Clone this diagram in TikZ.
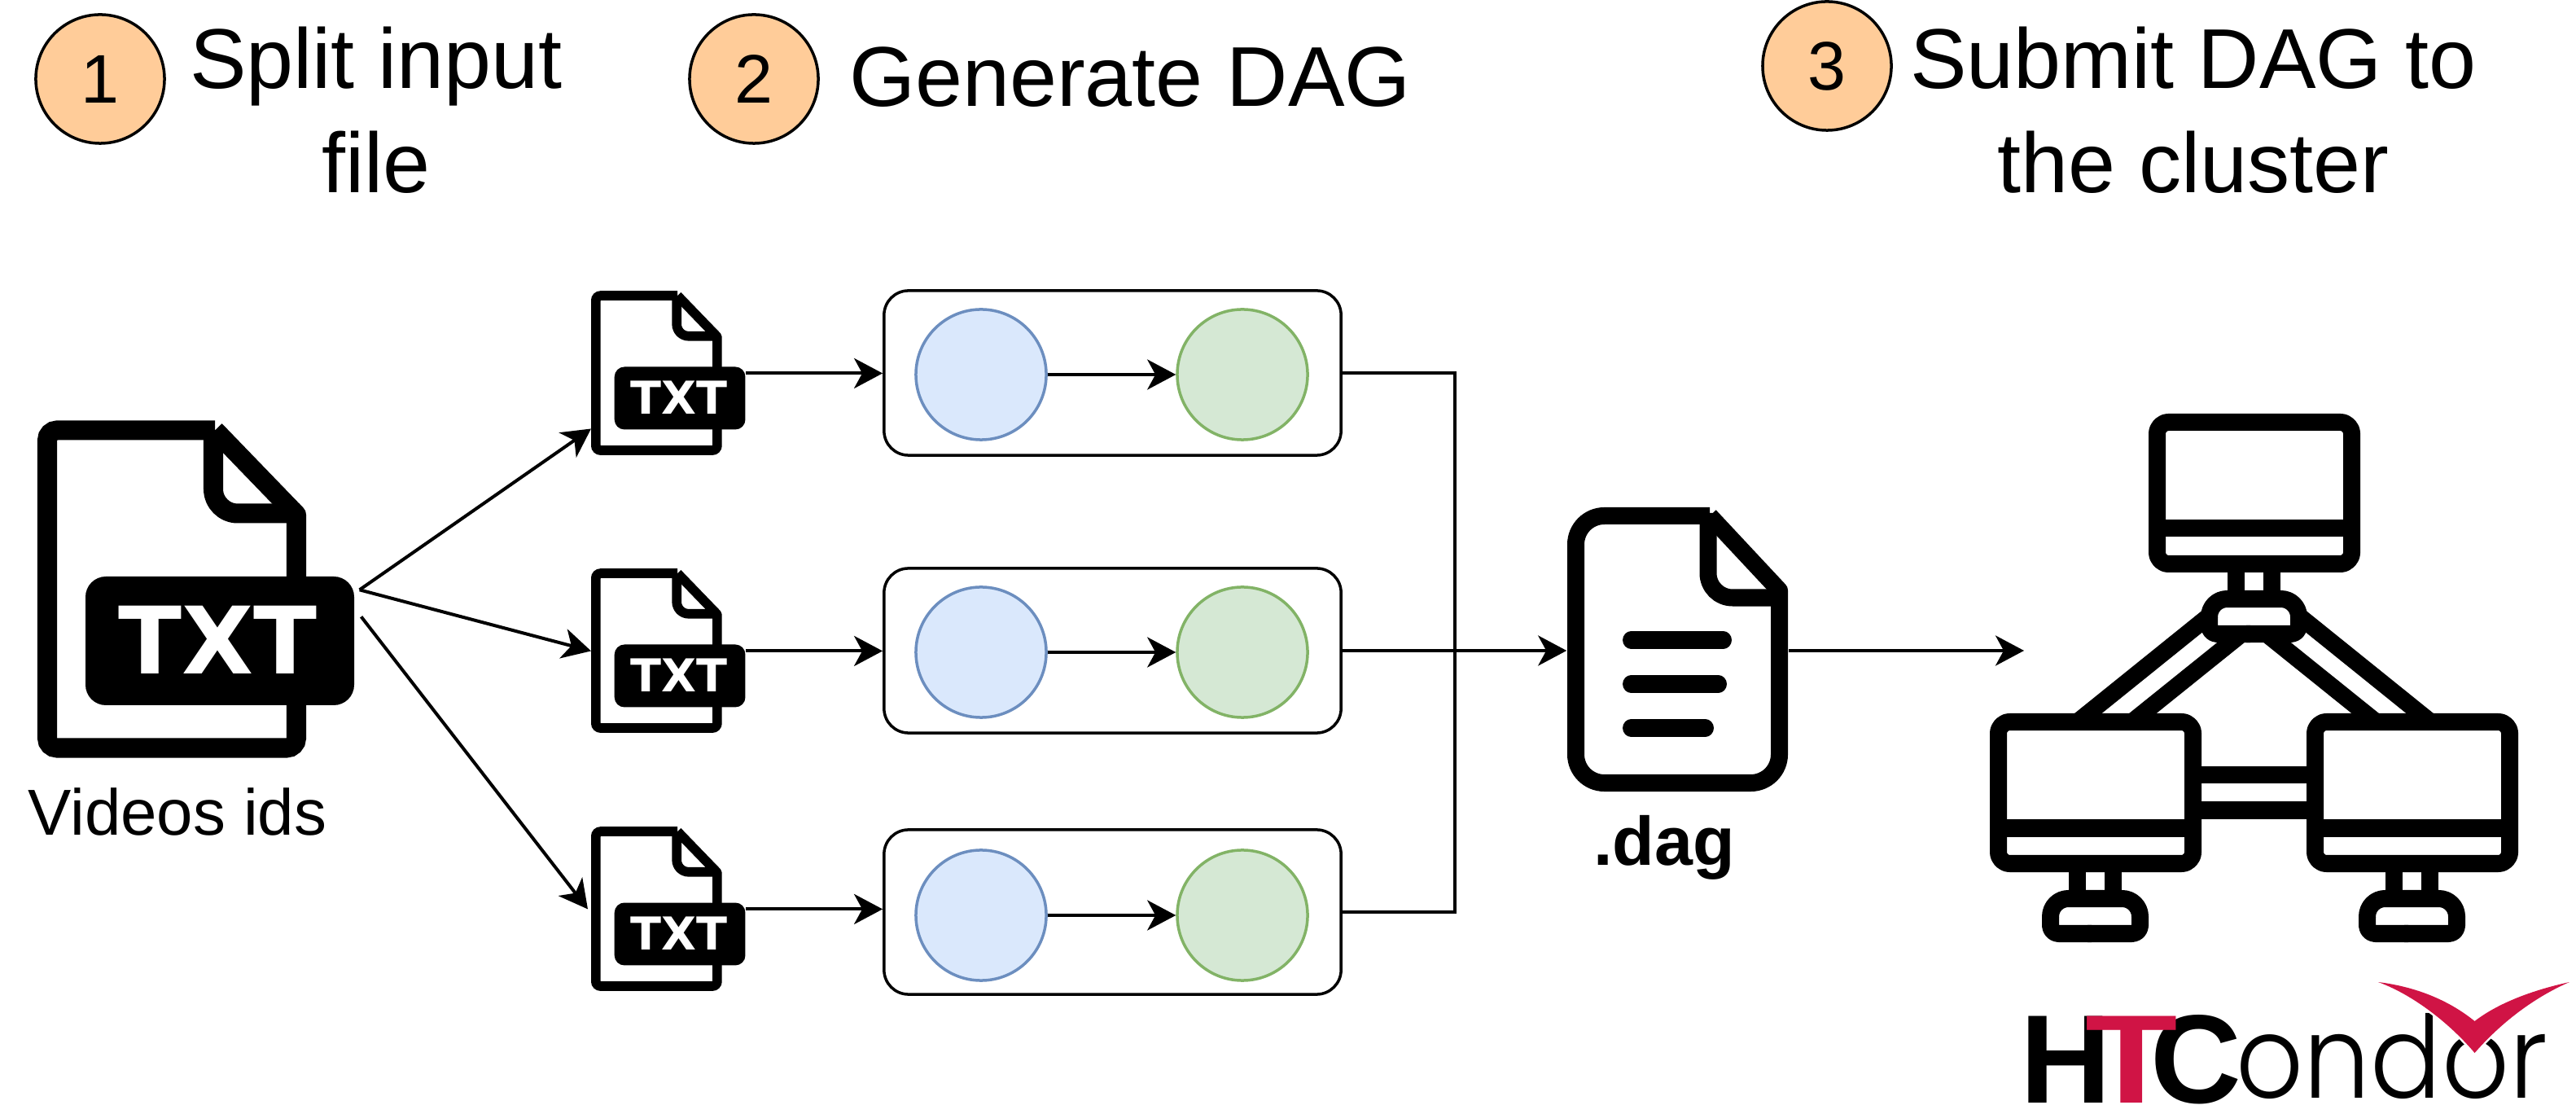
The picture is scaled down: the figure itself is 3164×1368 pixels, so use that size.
\documentclass[tikz,border=0pt]{standalone}
\usepackage{fontspec}
\usetikzlibrary{arrows.meta}
\setmainfont{Liberation Sans}
\newfontfamily\txtfont{DejaVu Sans}
\newfontfamily\thinfont[UprightFont=* Light]{Poppins}
\definecolor{stepfill}{HTML}{FFCC99}
\definecolor{bluefill}{HTML}{DAE8FC}
\definecolor{bluedraw}{HTML}{6C8EBF}
\definecolor{greenfill}{HTML}{D5E8D4}
\definecolor{greendraw}{HTML}{82B366}
\definecolor{logored}{HTML}{D01445}
\tikzset{
  flow/.style={line width=.04cm,-{Stealth[length=.35cm,width=.37cm,inset=.1cm]}},
  stepnum/.style={circle,draw,fill=stepfill,line width=.035cm,minimum size=1.58cm,inner sep=0,font=\fontsize{24}{28}\selectfont},
  title/.style={align=center,inner sep=0,font=\fontsize{29.65}{36.5}\selectfont},
  rowbox/.style={draw,rounded corners=.3cm,line width=.035cm,minimum width=5.61cm,minimum height=2.02cm},
  bluejob/.style={circle,draw=bluedraw,fill=bluefill,line width=.035cm,minimum size=1.6cm,inner sep=0},
  greenjob/.style={circle,draw=greendraw,fill=greenfill,line width=.035cm,minimum size=1.6cm,inner sep=0},
  caption/.style={inner sep=0,font=\fontsize{22.7}{27}\selectfont},
  heavy/.style={line width=.21cm,rounded corners=.14cm,line join=round},
}
\newcommand{\txtfile}[3]{
  \begin{scope}[shift={(#2)},scale=#3,every node/.append style={transform shape}]
    \draw [line width=.24cm*#3,rounded corners=.12cm*#3] (218,12.5)--(12,12.5)--(12,402.5)--(318,402.5)--(318,200);
    \draw [line width=.24cm*#3,line join=round] (318,200)--(318,116)--(218,12.5);
    \draw [line width=.24cm*#3,rounded corners=.3cm*#3] (216,12)--(216,114.5)--(322,114.5);
    \fill [rounded corners=.25cm*#3] (59,192) rectangle (389,350);
    \node [text=white,inner sep=0,font=\txtfont\bfseries\fontsize{32.5}{33}\selectfont] at (221.5,270) {TXT};
    \node [anchor=north west,inner sep=0,minimum width=3.89cm,minimum height=4.15cm] (#1) at (0,0) {};
  \end{scope}
}
\newcommand{\monitor}[1]{
  \begin{scope}[shift={(#1)}]
    \draw [heavy,fill=white] (10.5,10.5) rectangle (249.5,184.5);
    \draw [line width=.21cm] (0,141)--(260,141);
    \draw [line width=.21cm] (107.5,190)--(107.5,222);
    \draw [line width=.21cm] (151,190)--(151,222);
    \fill [white] (74.5,227.5) rectangle (184.5,270.5);
    \draw [heavy,rounded corners=.1cm] (125,270.5)--(74.5,270.5)--(74.5,250);
    \draw [heavy,rounded corners=.22cm] (74.5,250)--(74.5,227.5)--(184.5,227.5)--(184.5,250);
    \draw [heavy,rounded corners=.1cm] (184.5,250)--(184.5,270.5)--(120,270.5);
  \end{scope}
}
\begin{document}
\begin{tikzpicture}[x=.01cm,y=-.01cm]
  \useasboundingbox (0,0) rectangle (3164,1368);
  \node [stepnum] (S1) at (123,97) {1};
  \node [stepnum] (S2) at (926,97) {2};
  \node [stepnum] (S3) at (2244,81) {3};
  \node [title] (T1) at (462,135) {Split input\\file};
  \node [title] (T2) at (1388,95) {Generate DAG};
  \node [title] (T3) at (2694,135) {Submit DAG to\\the cluster};

  \txtfile{V}{46,516}{1}
  \node [caption] (VL) at (218,997) {Videos ids};

  \foreach \y/\ytop/\ymid [count=\i] in {458/357/460,799/698/801,1120/1015/1124}{
    \txtfile{F\i}{726,\ytop}{.487}
    \node [rowbox] (B\i) at (1366.5,\y) {};
    \node [bluejob] (P\i) at (1205,\ymid) {};
    \node [greenjob] (Q\i) at (1526,\ymid) {};
    \draw [flow] (F\i.east) -- (B\i.west |- F\i.east);
    \draw [flow] (P\i) -- (Q\i);
  }
  \draw [flow] ([xshift=.05cm]V.east) -- ([yshift=-.68cm]F1.west);
  \draw [flow] ([xshift=.05cm]V.east) -- (F2.west);
  \draw [flow] ([xshift=.07cm,yshift=-.33cm]V.east) -- ([xshift=-.04cm]F3.west);

  \draw [line width=.21cm,rounded corners=.35cm] (2100,633.5)--(1935.5,633.5)--(1935.5,961.5)--(2185.5,961.5)--(2185.5,800);
  \draw [line width=.21cm,line join=round] (2185.5,800)--(2185.5,725)--(2100,633.5);
  \draw [line width=.21cm,rounded corners=.3cm] (2098,630)--(2098,734)--(2190,734);
  \foreach \y/\xend in {786/2116.5,840/2110.5,894/2094.5}{
    \draw [line width=.21cm,line cap=round] (2003.5,\y)--(\xend,\y);
  }
  \node [inner sep=0,minimum width=2.71cm,minimum height=3.44cm] (D) at (2060.5,799) {};
  \node [caption,font=\bfseries\fontsize{24}{28}\selectfont] (DL) at (2044,1041) {.dag};

  \coordinate (M) at (1787,799);
  \coordinate (C) at (2486,799);
  \draw [line width=.04cm] (B1.east) -| (M);
  \draw [line width=.04cm] (B3.east) -| (M);
  \draw [flow] (B2.east) -- (D.west);
  \draw [flow] (D.east) -- (C);

  \draw [line width=.21cm] (2715,755)--(2540,896);
  \draw [line width=.21cm] (2750,781)--(2607,896);
  \draw [line width=.21cm] (2822,755)--(2997,896);
  \draw [line width=.21cm] (2787,781)--(2930,896);
  \draw [line width=.21cm] (2690,951.5)--(2850,951.5);
  \draw [line width=.21cm] (2690,995)--(2850,995);
  \monitor{2639,508}
  \monitor{2444,876}
  \monitor{2833,876}

  \node [anchor=base west,inner sep=0,font=\bfseries\fontsize{44}{44}\selectfont] (LH) at (2481,1354) {H};
  \node [anchor=base,inner sep=0,font=\bfseries\fontsize{44}{44}\selectfont] (LC) at (2697,1354) {C};
  \node [anchor=base,inner sep=0,text=logored,xscale=1.2,font=\bfseries\fontsize{44}{44}\selectfont] (LT) at (2618,1354) {T};
  \node [anchor=base west,inner sep=0,xscale=.92,font=\thinfont\fontsize{40}{40}\selectfont] (LO) at (2746,1348) {ondor};
  \fill [logored,preaction={draw=white,line width=.05cm}] (2921,1206) .. controls (2970,1212) and (3010,1230) .. (3039.5,1254) .. controls (3068,1232) and (3110,1216) .. (3156,1206) .. controls (3110,1226) and (3070,1258) .. (3039.5,1293) .. controls (3010,1258) and (2965,1222) .. (2921,1206) -- cycle;
\end{tikzpicture}
\end{document}
